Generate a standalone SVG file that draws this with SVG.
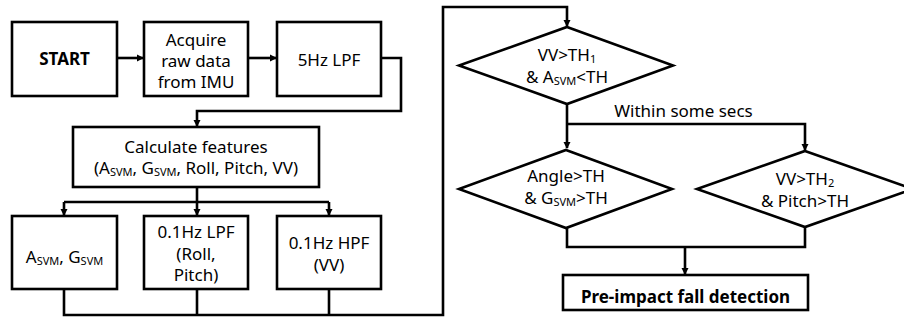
<svg xmlns="http://www.w3.org/2000/svg" width="904" height="322" viewBox="0 0 904 322">
<style>
.box{fill:#fff;stroke:#000;stroke-width:2.6}
.ln{fill:none;stroke:#000;stroke-width:2.6}
text{font-family:"Noto Sans","Liberation Sans",sans-serif;font-size:17px;fill:#000;text-anchor:middle}
.b{font-weight:bold}
.s{font-size:11px}
</style>
<defs>
<marker id="ah" markerWidth="8" markerHeight="8" refX="6" refY="4" orient="auto" markerUnits="userSpaceOnUse">
<path d="M0,0.5 L7,4 L0,7.5 Z" fill="#000"/>
</marker>
</defs>
<rect width="904" height="322" fill="#fff"/>
<g id="connectors">
<path class="ln" d="M117,58 H143" marker-end="url(#ah)"/>
<path class="ln" d="M248,58 H276" marker-end="url(#ah)"/>
<path class="ln" d="M381,58 H401 V111 H197 V126" marker-end="url(#ah)"/>
<path class="ln" d="M197,187 V202"/>
<path class="ln" d="M64,202 H329"/>
<path class="ln" d="M64,202 V215" marker-end="url(#ah)"/>
<path class="ln" d="M197,202 V215" marker-end="url(#ah)"/>
<path class="ln" d="M329,202 V215" marker-end="url(#ah)"/>
<path class="ln" d="M64,289 V315 H443 V7 H567 V26" marker-end="url(#ah)"/>
<path class="ln" d="M197,289 V315"/>
<path class="ln" d="M329,289 V315"/>
<path class="ln" d="M567,104 V148" marker-end="url(#ah)"/>
<path class="ln" d="M567,124 H805 V150" marker-end="url(#ah)"/>
<path class="ln" d="M567,228 V247 H805 V227"/>
<path class="ln" d="M685,247 V274" marker-end="url(#ah)"/>
</g>
<g id="start"><rect class="box" x="12" y="22" width="105" height="74"/><text class="b" x="64.5" y="65">START</text></g>
<g id="acquire"><rect class="box" x="144" y="22" width="104" height="74"/>
<text x="196" y="46">Acquire</text><text x="196" y="67">raw data</text><text x="196" y="88">from IMU</text></g>
<g id="lpf5"><rect class="box" x="277" y="22" width="104" height="74"/><text x="329" y="66">5Hz LPF</text></g>
<g id="calc"><rect class="box" x="73" y="127" width="246" height="60"/>
<text x="196" y="153">Calculate features</text>
<text x="196" y="174">(A<tspan class="s" dy="2">SVM</tspan><tspan dy="-2">, G</tspan><tspan class="s" dy="2">SVM</tspan><tspan dy="-2">, Roll, Pitch, VV)</tspan></text></g>
<g id="svm"><rect class="box" x="12" y="216" width="105" height="73"/>
<text x="64.5" y="263">A<tspan class="s" dy="2">SVM</tspan><tspan dy="-2">, G</tspan><tspan class="s" dy="2">SVM</tspan></text></g>
<g id="lpf01"><rect class="box" x="144" y="216" width="104" height="73"/>
<text x="196" y="238">0.1Hz LPF</text><text x="196" y="260">(Roll,</text><text x="196" y="281">Pitch)</text></g>
<g id="hpf01"><rect class="box" x="277" y="216" width="104" height="73"/>
<text x="329" y="249">0.1Hz HPF</text><text x="329" y="271">(VV)</text></g>
<g id="d1"><polygon class="box" points="567,27 673,65.5 567,104 459,65.5"/>
<text x="567" y="61">VV&gt;TH<tspan class="s" dy="2">1</tspan></text>
<text x="567" y="83">&amp; A<tspan class="s" dy="2">SVM</tspan><tspan dy="-2">&lt;TH</tspan></text></g>
<text x="683.5" y="117">Within some secs</text>
<g id="d2"><polygon class="box" points="566,150 672,189 566,228 459,189"/>
<text x="566" y="182">Angle&gt;TH</text>
<text x="566" y="204">&amp; G<tspan class="s" dy="2">SVM</tspan><tspan dy="-2">&gt;TH</tspan></text></g>
<g id="d3"><polygon class="box" points="805,151 913,189 805,227 697,189"/>
<text x="805" y="185">VV&gt;TH<tspan class="s" dy="2">2</tspan></text>
<text x="805" y="207">&amp; Pitch&gt;TH</text></g>
<g id="detect"><rect class="box" x="563" y="275" width="245" height="35"/>
<text class="b" x="685.5" y="303">Pre-impact fall detection</text></g>
</svg>
